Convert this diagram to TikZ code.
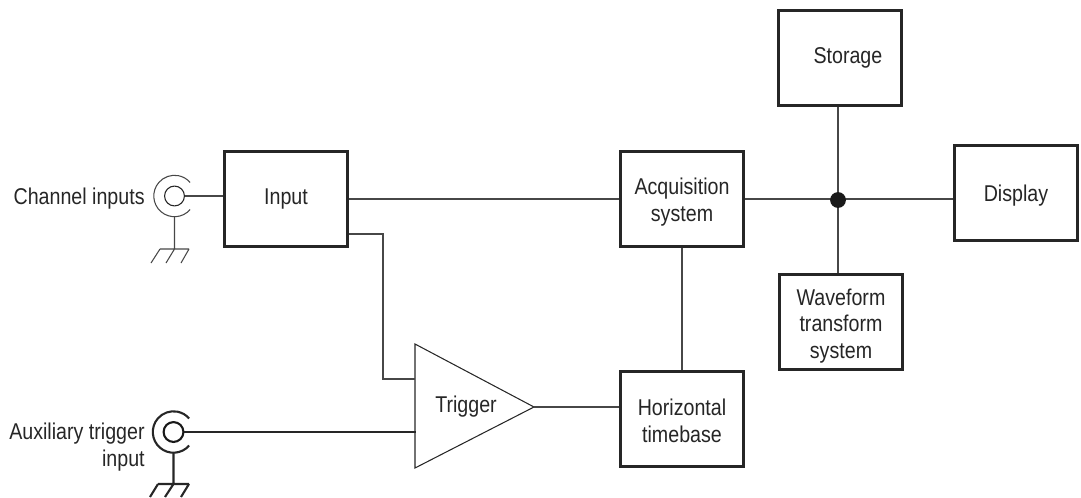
\documentclass[tikz,border=0pt]{standalone}
\usepackage{fontspec}
\setmainfont[FakeStretch=0.86]{Liberation Sans}
\usepackage{tikz}
\tikzset{
  labelfont/.style={font=\fontsize{13}{15.3}\selectfont, text=black!85},
  block/.style={draw=black!85, line width=1.5pt, fill=white, align=center, labelfont, minimum width=70pt, minimum height=54pt},
  blocktext/.style={align=center, labelfont},
  wire/.style={draw=black!72, line width=0.6pt},
  heavywire/.style={draw=black!85, line width=1.2pt},
  caption/.style={align=right, anchor=east, inner sep=0pt, labelfont},
  dot/.style={circle, fill=black!90, inner sep=0pt, minimum size=9pt}
}
\begin{document}
\begin{tikzpicture}[x=0.02cm, y=-0.02cm]
  \useasboundingbox (0,0) rectangle (1081,497);
  % Blocks
  \node[block] (input) at (286,199) {Input};
  \node[block, label={[blocktext, yshift=-1.7pt]center:Acquisition\\system}] (acq) at (682,199) {};
  \node[block, label={[blocktext, yshift=-1.2pt]center:Horizontal\\timebase}] (horiz) at (682,419) {};
  \node[block] (storage) at (840,58) {\hspace{9pt}Storage};
  \node[block, label={[blocktext, yshift=-2.3pt]center:Waveform\\transform\\system}] (wave) at (841,322) {};
  \node[block, label={[blocktext, yshift=-1.7pt]center:Display}] (display) at (1016,193) {};
  % Trigger amplifier
  \coordinate (trigA) at (415,344);
  \coordinate (trigB) at (415,468);
  \coordinate (trigC) at (534,407);
  \coordinate (trigIn) at (415,379);
  \coordinate (auxIn) at (416,432);
  \draw[wire, draw=black!85, line join=miter] (trigA) -- (trigC) -- (trigB) -- cycle;
  \node[labelfont] (trigger) at (466,407) {Trigger};
  % Connectors
  \coordinate (junction) at (838,200);
  \coordinate (inBranch) at (input.east |- 0,234);
  \draw[wire] (input.east) -- (acq.west);
  \draw[wire] (acq.east) -- (acq.east -| junction);
  \draw[wire] (acq.east -| junction) -- (display.west |- acq.east);
  \draw[wire] (storage.south -| junction) -- (junction);
  \draw[wire] (junction) -- (wave.north -| junction);
  \draw[wire] (acq) -- (horiz);
  \draw[wire] (trigC) -- (horiz.west |- trigC);
  \draw[wire] (inBranch) -- (383,234) -- (383,379) -- (trigIn);
  \node[dot] (joint) at (junction) {};
  % Channel inputs
  \node[caption] (chan) at (145,199) {Channel inputs};
  \node[circle, draw=black!85, line width=0.6pt, inner sep=0pt, minimum size=11.3pt] (chanjack) at (174.5,196) {};
  \draw[wire] (chanjack.east) -- (input.west |- chanjack);
  \draw[wire] (174.5,196) ++(41:20.7) arc (41:319:20.7);
  \draw[wire] (174.5,216.5) -- (174.5,249) (160,249) -- (189,249)
    (160,249) -- (151,263) (174.5,249) -- (166,263) (189,249) -- (181,263);
  % Auxiliary trigger
  \node[caption] (aux) at (145,447) {Auxiliary trigger\\input};
  \node[circle, draw=black!90, line width=1.2pt, inner sep=0pt, minimum size=11.3pt] (auxjack) at (173.5,432) {};
  \draw[heavywire] (auxjack.east) -- (auxIn);
  \draw[heavywire] (173.5,432) ++(41:20.7) arc (41:319:20.7);
  \draw[heavywire] (173.5,453) -- (173.5,484) (158,484) -- (189,484)
    (158,484) -- (150,497) (173.5,484) -- (165,497) (189,484) -- (181,497);
\end{tikzpicture}
\end{document}
